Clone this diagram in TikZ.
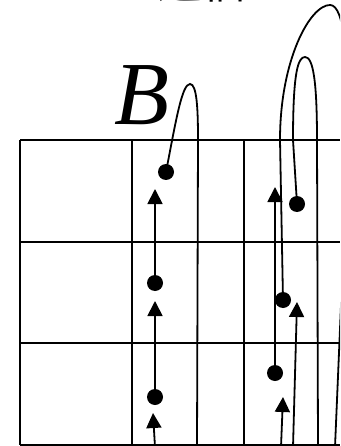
\documentclass[tikz,border=0pt]{standalone}
\usepackage{fontspec}
\setmainfont{Liberation Serif}
\newfontfamily\cjk{Noto Sans CJK SC}
\usetikzlibrary{arrows.meta}
\begin{document}
\begin{tikzpicture}[x=1pt,y=-1pt,
  grid/.style={line width=2pt},
  ln/.style={line width=1.8pt},
  dot/.style={circle,fill,inner sep=0pt,minimum size=16pt},
  arr/.style={ln,-{Triangle[length=15pt,width=15pt]}}]
\useasboundingbox (0,0) rectangle (340,446);
\clip (0,0) rectangle (340,446);
% title fragment (cut off at the top edge, as in the reference)
\node[font={\cjk\fontsize{45}{45}\selectfont},anchor=base,inner sep=0pt] (title) at (202,-1.5) {通信};
% label B
\node[font={\fontsize{90}{90}\selectfont\itshape},anchor=base,inner sep=0pt] (lblB) at (142,125) {B};
% grid
\foreach \y in {140,242,343,445} \draw[grid] (20,\y) -- (340,\y);
\foreach \x in {20,132,244} \draw[grid] (\x,140) -- (\x,445);
% dots
\node[dot] (d1) at (166,172) {};
\node[dot] (d2) at (155,283) {};
\node[dot] (d3) at (155,397) {};
\node[dot] (d4) at (297,204) {};
\node[dot] (d5) at (283,300) {};
\node[dot] (d6) at (275,373) {};
% arrow tips and free ends
\coordinate (t1) at (155,189);
\coordinate (t2) at (155,301);
\coordinate (t3) at (153,413);
\coordinate (t4) at (275,187);
\coordinate (t5) at (297,302);
\coordinate (t6) at (283,397);
\coordinate (b3) at (155,447);
\coordinate (b5) at (293,447);
\coordinate (b6) at (281,447);
% arrows
\draw[arr] (d2.center) -- (t1);
\draw[arr] (d3.center) -- (t2);
\draw[arr] (b3) -- (t3);
\draw[arr] (d6.center) -- (t4);
\draw[arr] (b5) -- (t5);
\draw[arr] (b6) -- (t6);
% arches
\draw[ln] (d1.center) .. controls (176,120) and (182,84) .. (190,84)
  .. controls (197,84) and (198,110) .. (198,140) -- (197,447);
\draw[ln] (d4.center) -- (293,140) .. controls (293,72) and (298,57) .. (305,57)
  .. controls (313,57) and (317,80) .. (317,140) -- (318,447);
\draw[ln] (d5.center) -- (280,140) .. controls (280,60) and (310,5) .. (330,5)
  .. controls (345,5) and (348,60) .. (348,140) -- (335,447);
\end{tikzpicture}
\end{document}
